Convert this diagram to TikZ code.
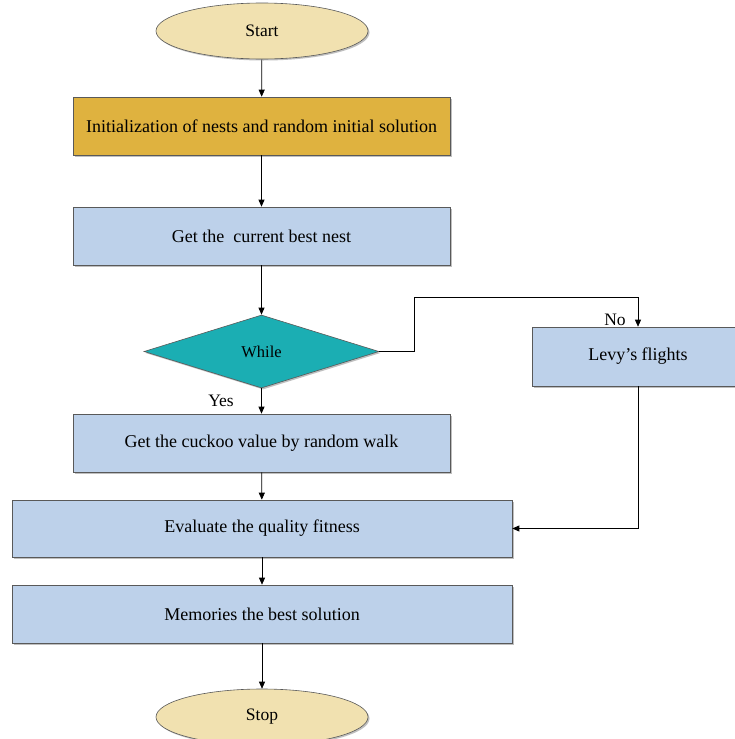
\documentclass[tikz,border=0pt]{standalone}
\usepackage{fontspec}
\setmainfont{Liberation Serif}
\usetikzlibrary{shapes.geometric,arrows.meta,shadows}
\definecolor{termfill}{HTML}{F1E1B0}
\definecolor{initfill}{HTML}{DFB23F}
\definecolor{stepfill}{HTML}{BDD1EA}
\definecolor{testfill}{HTML}{1BAEB3}
\definecolor{edgegrey}{HTML}{595959}
\begin{document}
\begin{tikzpicture}[x=1pt,y=-1pt,
  softshadow/.style={drop shadow={shadow xshift=1.5pt,shadow yshift=-1.5pt,opacity=0.25,fill=black}},
  base/.style={draw=edgegrey,line width=0.6pt,inner sep=0pt,text=black,softshadow},
  stepbox/.style={base,rectangle,fill=stepfill,minimum height=58pt,font=\fontsize{18}{21}\selectfont},
  term/.style={base,ellipse,fill=termfill,minimum width=212pt,minimum height=56pt,font=\fontsize{17.5}{20}\selectfont},
  test/.style={base,diamond,fill=testfill,minimum width=235pt,minimum height=73pt,font=\fontsize{16.5}{19}\selectfont},
  flow/.style={draw=black,line width=0.7pt,-{Triangle[length=7pt,width=6pt]}},
  tag/.style={font=\fontsize{17.5}{20}\selectfont,inner sep=0pt}]
\useasboundingbox (0,0) rectangle (734,739);

% nodes of the flow
\node[term] (start) at (262,31) {Start};
\node[stepbox,fill=initfill,minimum width=377pt] (init) at (261.5,126) {Initialization of nests and random initial solution};
\node[stepbox,minimum width=377pt] (best) at (261.5,236) {Get the \ current best nest};
\node[test] (while) at (261.5,351.5) {While};
\node[stepbox,minimum width=212pt,minimum height=59pt] (levy) at (638,356.5) {Levy’s flights};
\node[stepbox,minimum width=377pt] (cuckoo) at (261.5,443) {Get the cuckoo value by random walk};
\node[stepbox,minimum width=500pt,minimum height=57pt] (eval) at (262,528.5) {Evaluate the quality fitness};
\node[stepbox,minimum width=500pt] (mem) at (262,614) {Memories the best solution};
\node[term] (stop) at (262,717) {Stop};

% main chain
\draw[flow] (start) -- (init);
\draw[flow] (init) -- (best);
\draw[flow] (best) -- (while);
\draw[flow] (while) -- (cuckoo);
\draw[flow] (cuckoo) -- (eval);
\draw[flow] (eval) -- (mem);
\draw[flow] (mem) -- (stop);

% the "No" branch through Levy's flights
\coordinate (bend) at (414,297);
\draw[flow] (while.east) -| (bend) -| (levy.north);
\draw[flow] (levy.south) |- (eval.east);

% branch labels
\node[tag] (nolbl) at (615,320) {No};
\node[tag] (yeslbl) at (221,401) {Yes};
\end{tikzpicture}
\end{document}
